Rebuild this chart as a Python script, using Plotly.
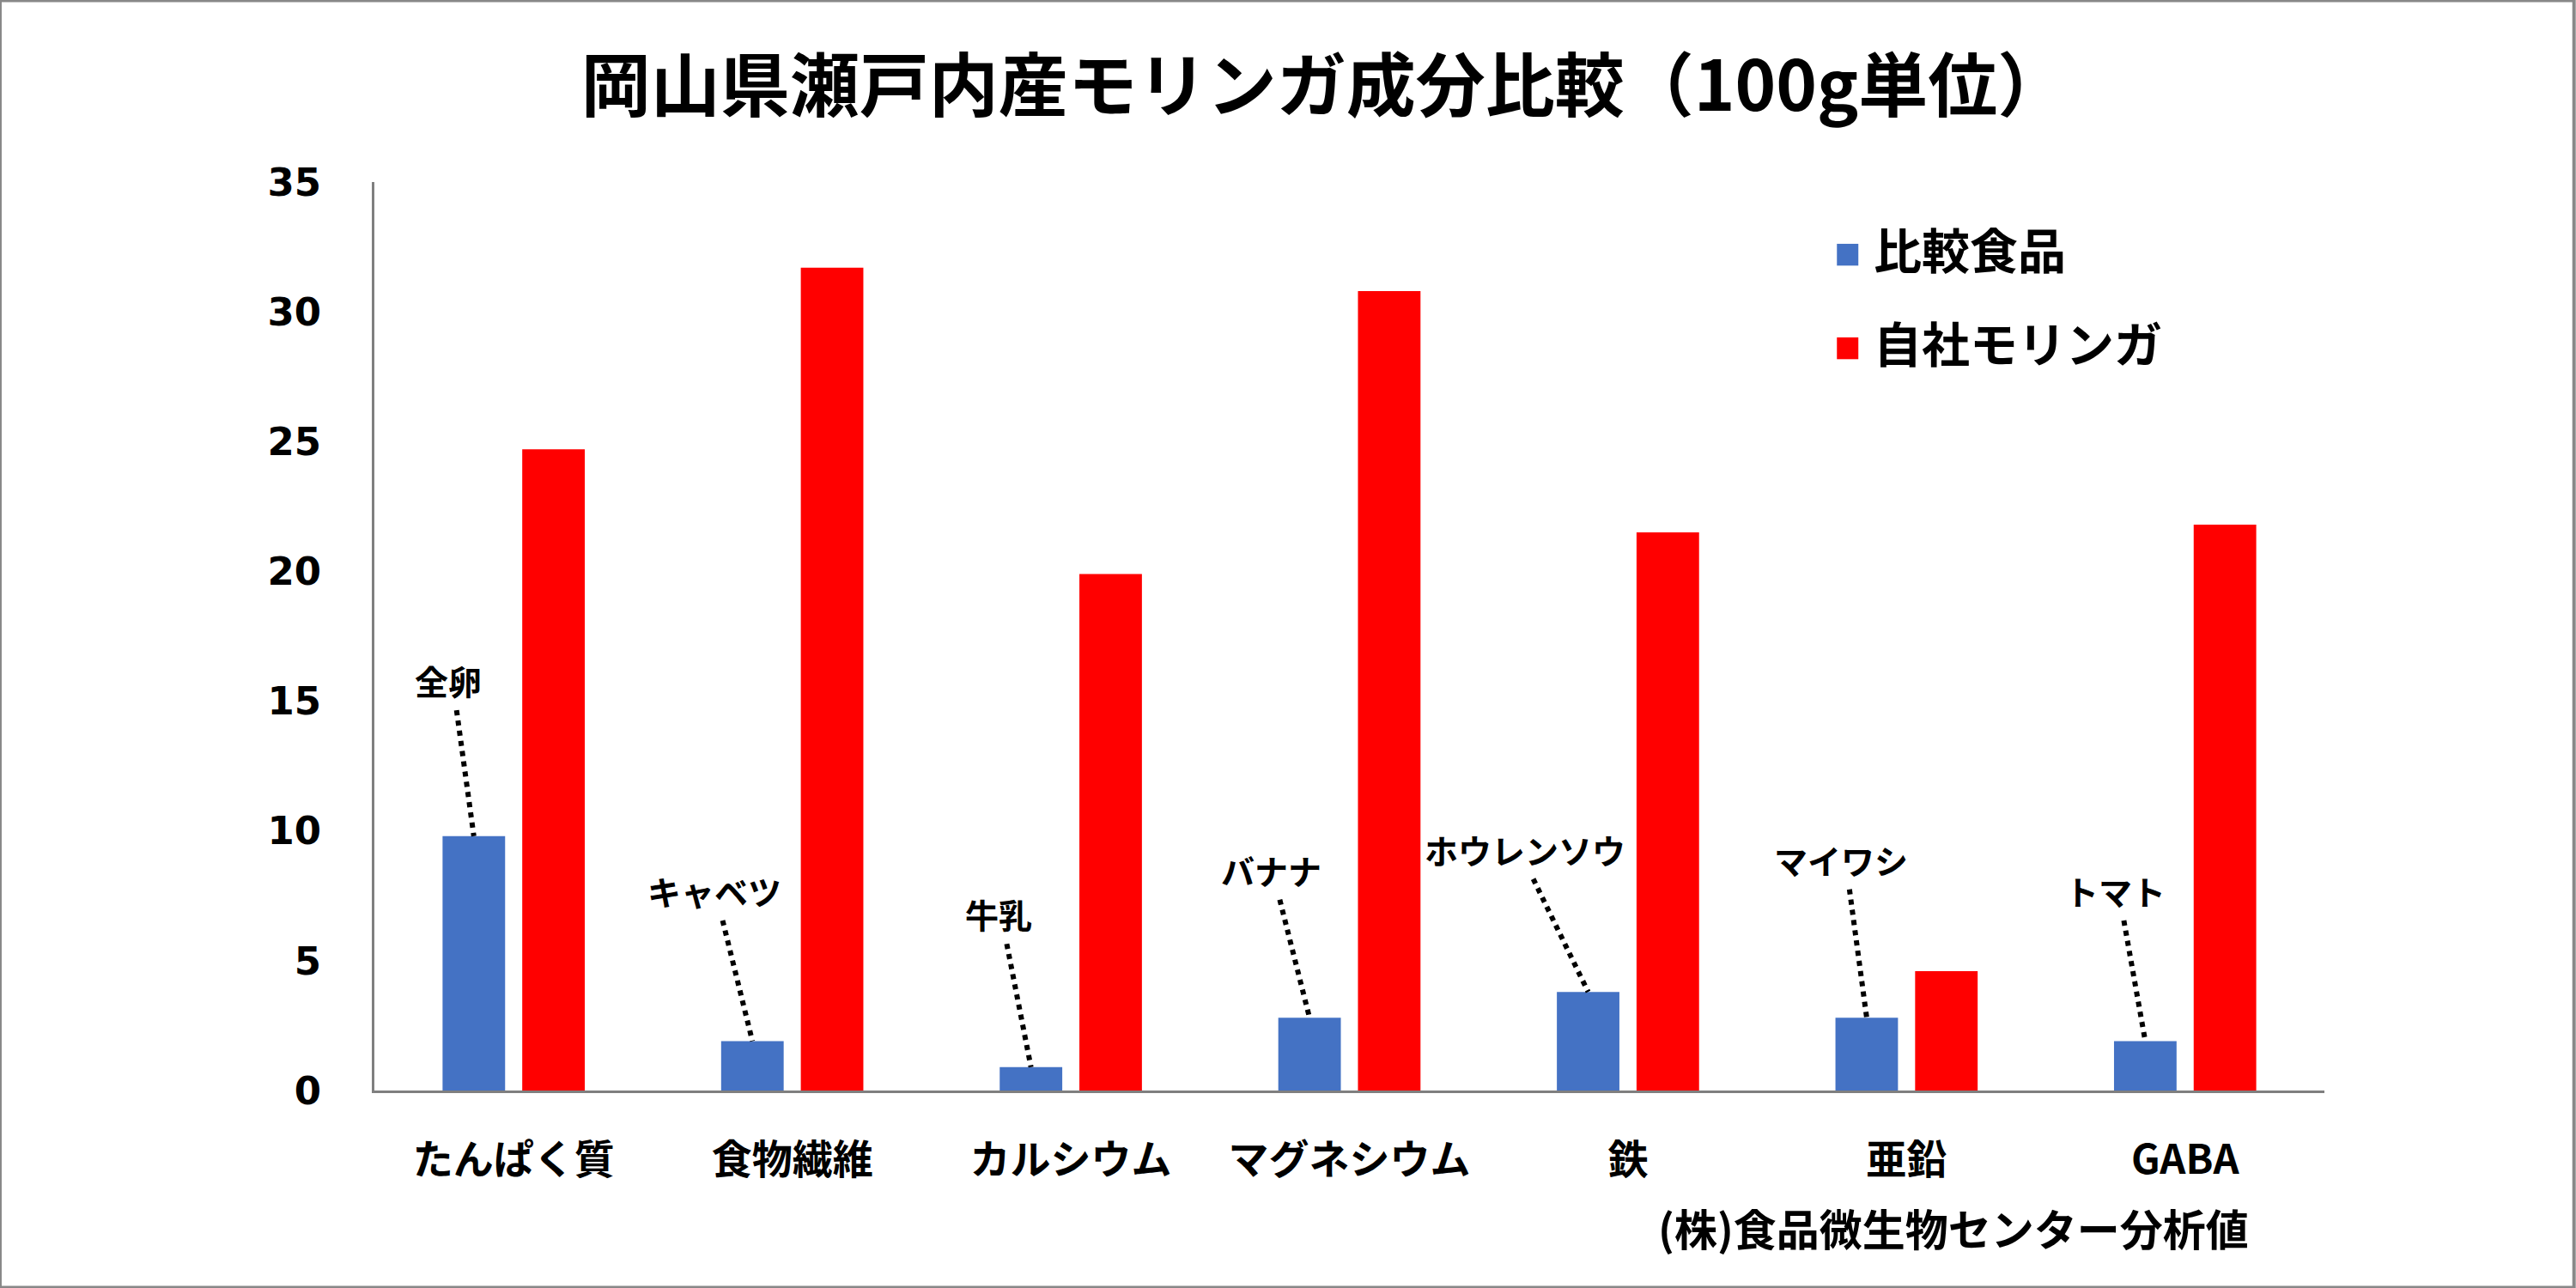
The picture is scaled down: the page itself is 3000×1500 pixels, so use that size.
import plotly.graph_objects as go

# categories and values (g per 100 g)
categories = ['たんぱく質', '食物繊維', 'カルシウム', 'マグネシウム', '鉄', '亜鉛', 'GABA']
compare_foods = ['全卵', 'キャベツ', '牛乳', 'バナナ', 'ホウレンソウ', 'マイワシ', 'トマト']
compare_values = [9.8, 1.9, 0.9, 2.8, 3.8, 2.8, 1.9]
moringa_values = [24.7, 31.7, 19.9, 30.8, 21.5, 4.6, 21.8]
y_ticks = [0, 5, 10, 15, 20, 25, 30, 35]

series_names = ['比較食品', '自社モリンガ']
series_colors = ['#4472C4', '#FF0000']

JP = 'Noto Sans CJK JP'
x_idx = list(range(len(categories)))

fig = go.Figure()
fig.add_trace(go.Bar(x=x_idx, y=compare_values, name=series_names[0],
                     marker=dict(color=series_colors[0], line=dict(width=0)), showlegend=False))
fig.add_trace(go.Bar(x=x_idx, y=moringa_values, name=series_names[1],
                     marker=dict(color=series_colors[1], line=dict(width=0)), showlegend=False))

# callout labels for the comparison foods, with dotted leader lines to the blue bars
label_dx = [-0.235, -0.28, -0.26, -0.28, -0.37, -0.235, -0.25]
label_y = [15.8, 7.7, 6.8, 8.5, 9.3, 8.9, 7.7]
blue_dx = -0.143
for i, food in enumerate(compare_foods):
    fig.add_annotation(x=i + label_dx[i], y=label_y[i], text=food, showarrow=False,
                       xref='x', yref='y',
                       font=dict(family=JP, size=39, color='black', weight='bold'))
    fig.add_trace(go.Scatter(
        x=[i + label_dx[i] + 0.03, i + blue_dx],
        y=[label_y[i] - 1.15, compare_values[i]],
        mode='lines', line=dict(color='black', width=6, dash='dot'),
        showlegend=False, hoverinfo='skip'))

# legend drawn by hand (square swatches + labels)
for k, (name, color) in enumerate(zip(series_names, series_colors)):
    yc = 0.92 - k * 0.103
    fig.add_shape(type='rect', xref='paper', yref='paper',
                  x0=0.750, x1=0.761, y0=yc - 0.012, y1=yc + 0.012,
                  fillcolor=color, line=dict(width=0))
    fig.add_annotation(x=0.768, y=yc, xref='paper', yref='paper', text=name,
                       showarrow=False, xanchor='left', yanchor='middle', yshift=8,
                       font=dict(family=JP, size=56, color='black', weight='bold'))

# source note
fig.add_annotation(x=0.962, y=-0.15, xref='paper', yref='paper',
                   text='(株)食品微生物センター分析値', showarrow=False,
                   xanchor='right', yanchor='middle',
                   font=dict(family=JP, size=50, color='black', weight='bold'))

# outer frame
fig.add_shape(type='rect', xref='paper', yref='paper', x0=-0.192, x1=1.128, y0=-0.217, y1=1.200,
              line=dict(color='#888888', width=4), layer='below')

fig.update_layout(
    width=3000, height=1500,
    margin=dict(l=436, r=293, t=212, b=230),
    paper_bgcolor='white', plot_bgcolor='white',
    barmode='group', bargap=0.428, bargroupgap=0.215,
    title=dict(text='岡山県瀬戸内産モリンガ成分比較（100g単位）',
               x=0.514, xanchor='center', y=0.933, yanchor='middle',
               font=dict(family=JP, size=81, color='black', weight='bold')),
    xaxis=dict(range=[-0.5, 6.5], tickvals=x_idx, ticktext=categories,
               showgrid=False, zeroline=False, showline=True,
               linecolor='#7f7f7f', linewidth=3, ticks='', ticklabelstandoff=38,
               tickfont=dict(family=JP, size=47, color='black', weight='bold')),
    yaxis=dict(range=[0, 35], tickvals=y_ticks, showgrid=False, zeroline=False,
               showline=True, linecolor='#7f7f7f', linewidth=3, ticks='',
               ticklabelstandoff=50,
               tickfont=dict(family='DejaVu Sans', size=45, color='black', weight='bold')),
)

fig.write_html("out.html", config={'displayModeBar': False},
               post_script="document.body.style.margin='0';")
